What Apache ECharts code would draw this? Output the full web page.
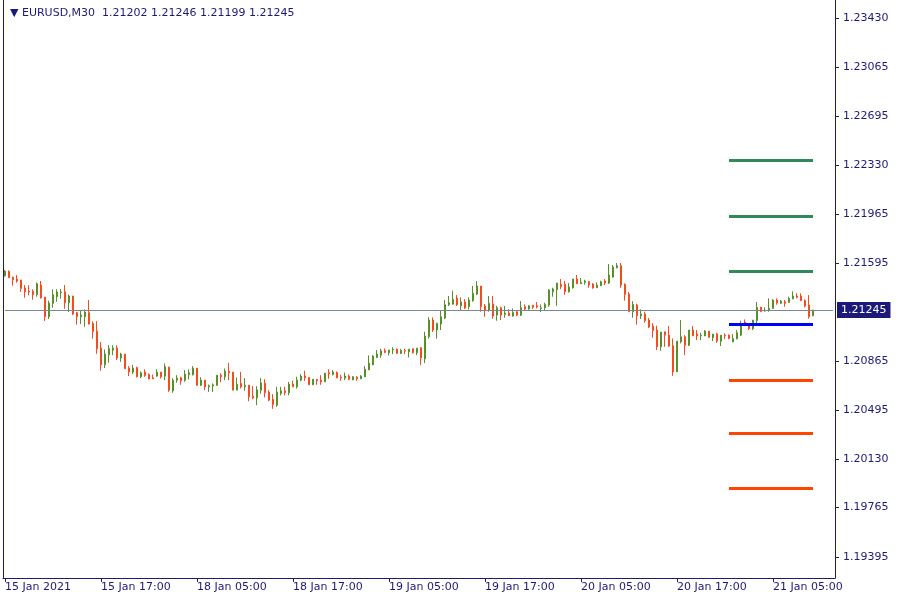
<!DOCTYPE html>
<html><head><meta charset="utf-8">
<script src="https://cdn.jsdelivr.net/npm/echarts@6/dist/echarts.min.js"></script>
<style>html,body{margin:0;padding:0;background:#fff}#c{width:900px;height:600px}</style>
</head><body><div id="c"></div>
<script>
const symbolName = 'EURUSD,M30';
const open = [1.21502,1.21535,1.21490,1.21477,1.21470,1.21410,1.21385,1.21385,1.21360,1.21432,
1.21342,1.21195,1.21295,1.21345,1.21375,1.21382,1.21300,1.21350,1.21225,1.21195,
1.21195,1.21225,1.21145,1.21087,1.20960,1.20835,1.20910,1.20945,1.20960,1.20887,
1.20915,1.20810,1.20780,1.20815,1.20745,1.20780,1.20762,1.20737,1.20750,1.20780,
1.20750,1.20817,1.20640,1.20720,1.20737,1.20720,1.20760,1.20760,1.20810,1.20682,
1.20720,1.20670,1.20677,1.20682,1.20757,1.20745,1.20787,1.20780,1.20645,1.20695,
1.20670,1.20682,1.20600,1.20587,1.20645,1.20697,1.20630,1.20577,1.20532,1.20620,
1.20640,1.20625,1.20690,1.20670,1.20720,1.20750,1.20740,1.20685,1.20725,1.20720,
1.20707,1.20775,1.20762,1.20777,1.20742,1.20735,1.20750,1.20722,1.20742,1.20730,
1.20745,1.20797,1.20835,1.20890,1.20907,1.20940,1.20925,1.20945,1.20952,1.20920,
1.20942,1.20932,1.20955,1.20925,1.20962,1.20880,1.21045,1.21170,1.21095,1.21140,
1.21185,1.21285,1.21290,1.21335,1.21275,1.21305,1.21270,1.21315,1.21365,1.21425,
1.21275,1.21245,1.21290,1.21207,1.21262,1.21212,1.21222,1.21200,1.21232,1.21207,
1.21270,1.21252,1.21280,1.21277,1.21257,1.21262,1.21282,1.21382,1.21397,1.21437,
1.21437,1.21382,1.21412,1.21477,1.21442,1.21452,1.21457,1.21440,1.21412,1.21427,
1.21462,1.21447,1.21492,1.21562,1.21577,1.21437,1.21365,1.21232,1.21282,1.21202,
1.21215,1.21170,1.21125,1.21095,1.20970,1.21082,1.21057,1.20977,1.20782,1.21007,
1.21045,1.20982,1.21095,1.21065,1.21052,1.21052,1.21087,1.21037,1.21065,1.21012,
1.21057,1.21057,1.21007,1.21030,1.21057,1.21155,1.21140,1.21105,1.21165,1.21265,
1.21237,1.21245,1.21257,1.21320,1.21295,1.21307,1.21302,1.21330,1.21350,1.21350,
1.21315,1.21282,1.21202];
const high = [1.21545,1.21542,1.21495,1.21507,1.21470,1.21432,1.21430,1.21400,1.21452,1.21462,
1.21342,1.21315,1.21400,1.21400,1.21402,1.21432,1.21362,1.21350,1.21232,1.21240,
1.21250,1.21320,1.21160,1.21162,1.21005,1.20950,1.20982,1.20982,1.20980,1.20925,
1.20915,1.20825,1.20835,1.20820,1.20785,1.20800,1.20770,1.20762,1.20802,1.20780,
1.20845,1.20820,1.20735,1.20757,1.20745,1.20795,1.20800,1.20825,1.20810,1.20742,
1.20720,1.20687,1.20695,1.20757,1.20770,1.20807,1.20850,1.20780,1.20740,1.20782,
1.20735,1.20682,1.20675,1.20675,1.20735,1.20727,1.20645,1.20615,1.20670,1.20670,
1.20670,1.20707,1.20717,1.20745,1.20765,1.20790,1.20740,1.20727,1.20725,1.20757,
1.20772,1.20802,1.20795,1.20785,1.20760,1.20777,1.20762,1.20750,1.20750,1.20757,
1.20825,1.20905,1.20907,1.20945,1.20955,1.20957,1.20945,1.20967,1.20957,1.20955,
1.20955,1.20952,1.20957,1.20960,1.20967,1.21082,1.21192,1.21190,1.21150,1.21240,
1.21320,1.21350,1.21390,1.21357,1.21340,1.21327,1.21340,1.21425,1.21462,1.21425,
1.21290,1.21350,1.21350,1.21277,1.21270,1.21275,1.21252,1.21257,1.21237,1.21312,
1.21287,1.21282,1.21280,1.21305,1.21287,1.21300,1.21402,1.21412,1.21447,1.21477,
1.21462,1.21447,1.21477,1.21507,1.21485,1.21472,1.21462,1.21447,1.21452,1.21465,
1.21477,1.21590,1.21582,1.21597,1.21597,1.21445,1.21380,1.21312,1.21292,1.21250,
1.21232,1.21185,1.21147,1.21127,1.21080,1.21082,1.21125,1.21032,1.21012,1.21170,
1.21057,1.21095,1.21125,1.21095,1.21075,1.21095,1.21087,1.21065,1.21075,1.21057,
1.21070,1.21062,1.21065,1.21095,1.21165,1.21175,1.21145,1.21170,1.21305,1.21270,
1.21265,1.21332,1.21325,1.21332,1.21320,1.21320,1.21345,1.21385,1.21370,1.21370,
1.21325,1.21357,1.21246];
const low = [1.21495,1.21487,1.21427,1.21450,1.21382,1.21337,1.21355,1.21322,1.21345,1.21330,
1.21162,1.21177,1.21262,1.21307,1.21330,1.21255,1.21230,1.21207,1.21135,1.21140,
1.21120,1.21137,1.21030,1.20917,1.20790,1.20810,1.20850,1.20907,1.20870,1.20857,
1.20805,1.20750,1.20765,1.20740,1.20735,1.20745,1.20727,1.20730,1.20745,1.20732,
1.20720,1.20632,1.20625,1.20700,1.20685,1.20707,1.20725,1.20755,1.20677,1.20675,
1.20645,1.20632,1.20632,1.20677,1.20705,1.20720,1.20720,1.20645,1.20645,1.20657,
1.20640,1.20562,1.20577,1.20532,1.20620,1.20590,1.20562,1.20505,1.20520,1.20605,
1.20607,1.20607,1.20670,1.20657,1.20712,1.20715,1.20685,1.20685,1.20685,1.20685,
1.20707,1.20730,1.20755,1.20735,1.20715,1.20720,1.20720,1.20720,1.20715,1.20727,
1.20742,1.20795,1.20832,1.20885,1.20887,1.20922,1.20905,1.20915,1.20917,1.20915,
1.20915,1.20890,1.20920,1.20907,1.20832,1.20847,1.21032,1.21080,1.21030,1.21095,
1.21177,1.21275,1.21285,1.21275,1.21245,1.21252,1.21250,1.21307,1.21357,1.21232,
1.21195,1.21232,1.21180,1.21165,1.21170,1.21187,1.21200,1.21195,1.21200,1.21200,
1.21245,1.21247,1.21252,1.21257,1.21230,1.21245,1.21270,1.21345,1.21277,1.21402,
1.21360,1.21375,1.21405,1.21442,1.21440,1.21435,1.21412,1.21405,1.21412,1.21425,
1.21432,1.21440,1.21487,1.21557,1.21412,1.21315,1.21232,1.21187,1.21135,1.21177,
1.21150,1.21110,1.21037,1.20945,1.20940,1.20970,1.20970,1.20752,1.20782,1.20995,
1.20907,1.20975,1.21050,1.21020,1.21020,1.21050,1.21040,1.21012,1.21000,1.20975,
1.21027,1.21027,1.21005,1.21025,1.21050,1.21125,1.21095,1.21095,1.21140,1.21232,
1.21232,1.21232,1.21255,1.21285,1.21292,1.21270,1.21300,1.21325,1.21332,1.21312,
1.21265,1.21180,1.21199];
const close = [1.21537,1.21487,1.21472,1.21462,1.21407,1.21382,1.21380,1.21360,1.21442,1.21337,
1.21195,1.21297,1.21360,1.21380,1.21380,1.21300,1.21350,1.21215,1.21195,1.21207,
1.21230,1.21140,1.21085,1.20955,1.20835,1.20915,1.20955,1.20960,1.20885,1.20915,
1.20805,1.20782,1.20810,1.20747,1.20775,1.20755,1.20730,1.20730,1.20780,1.20745,
1.20820,1.20645,1.20720,1.20735,1.20715,1.20765,1.20775,1.20810,1.20682,1.20720,
1.20670,1.20677,1.20685,1.20757,1.20745,1.20787,1.20775,1.20645,1.20687,1.20670,
1.20682,1.20595,1.20587,1.20647,1.20700,1.20625,1.20570,1.20537,1.20630,1.20640,
1.20625,1.20690,1.20670,1.20720,1.20750,1.20737,1.20685,1.20727,1.20715,1.20707,
1.20772,1.20767,1.20780,1.20737,1.20737,1.20750,1.20727,1.20745,1.20730,1.20750,
1.20802,1.20847,1.20900,1.20915,1.20940,1.20927,1.20945,1.20950,1.20922,1.20942,
1.20937,1.20952,1.20925,1.20960,1.20887,1.21050,1.21170,1.21095,1.21145,1.21195,
1.21285,1.21300,1.21325,1.21285,1.21305,1.21260,1.21320,1.21370,1.21425,1.21270,
1.21245,1.21295,1.21200,1.21262,1.21207,1.21222,1.21202,1.21227,1.21207,1.21262,
1.21252,1.21277,1.21265,1.21267,1.21262,1.21287,1.21395,1.21402,1.21447,1.21422,
1.21382,1.21417,1.21477,1.21442,1.21452,1.21462,1.21432,1.21410,1.21432,1.21457,
1.21447,1.21507,1.21567,1.21577,1.21432,1.21362,1.21232,1.21287,1.21202,1.21215,
1.21165,1.21117,1.21092,1.20970,1.21080,1.21057,1.20975,1.20782,1.21012,1.21045,
1.20982,1.21095,1.21052,1.21050,1.21057,1.21087,1.21040,1.21065,1.21012,1.21057,
1.21052,1.21032,1.21032,1.21075,1.21145,1.21130,1.21105,1.21170,1.21265,1.21232,
1.21242,1.21257,1.21320,1.21300,1.21312,1.21295,1.21332,1.21350,1.21340,1.21315,
1.21275,1.21195,1.21245];
const timeLabels = ['15 Jan 2021','15 Jan 17:00','18 Jan 05:00','18 Jan 17:00','19 Jan 05:00','19 Jan 17:00','20 Jan 05:00','20 Jan 17:00','21 Jan 05:00'];
const priceTicks = [1.19395,1.19765,1.20130,1.20495,1.20865,1.21595,1.21965,1.22330,1.22695,1.23065,1.23430];
const pivotLevels = [1.22369,1.21949,1.21537,1.21140,1.20721,1.20324,1.19912];
const pivotKinds = ['up','up','up','pivot','down','down','down'];
const pivotFrom = 181, pivotTo = 202;
const slotCount = 208, labelStep = 24;
const priceMin = 1.19238, priceMax = 1.23567;

const navy = '#1b1a78';
const bull = '#5a8e2b', bear = '#f44b1f';
const pivotColor = {up:'#2e8b57', pivot:'#0000ff', down:'#ff4500'};
const font = 'DejaVu Sans';

const categories = Array.from({length: slotCount}, (_, i) =>
  (i % labelStep === 0 && timeLabels[i / labelStep]) ? timeLabels[i / labelStep] : 'bar' + i);
const candles = open.map((o, i) => [o, close[i], low[i], high[i]]);
const last = candles.length - 1;
const lastClose = close[last];

const markData = [[
  {coord: [0, lastClose], lineStyle: {color: '#778899', width: 1, type: 'solid'},
   label: {show: true, position: 'end', distance: 4, formatter: lastClose.toFixed(5),
     color: '#fff', backgroundColor: navy, padding: [3, 4, 2, 4], fontSize: 11, fontFamily: font}},
  {coord: [slotCount - 1, lastClose]}
]];
pivotLevels.forEach((lv, k) => {
  markData.push([
    {coord: [pivotFrom, lv], lineStyle: {color: pivotColor[pivotKinds[k]], width: 3, type: 'solid'}, label: {show: false}},
    {coord: [pivotTo, lv]}
  ]);
});

const chart = echarts.init(document.getElementById('c'), null, {renderer: 'canvas'});
chart.setOption({
  animation: false,
  backgroundColor: '#fff',
  title: {
    text: '\u25BC ' + symbolName + '  ' + [open[last], high[last], low[last], close[last]].map(v => v.toFixed(5)).join(' '),
    left: 5, top: 3,
    textStyle: {fontSize: 11, fontWeight: 'normal', color: navy, fontFamily: font}
  },
  grid: {left: 3, right: 65, top: 0, bottom: 22},
  xAxis: {
    type: 'category', data: categories, boundaryGap: true,
    axisLine: {show: true, lineStyle: {color: navy, width: 1}},
    axisTick: {show: true, alignWithLabel: true, interval: labelStep - 1, length: 4, lineStyle: {color: navy}},
    axisLabel: {interval: labelStep - 1, align: 'left', margin: 4, color: navy, fontSize: 11, fontFamily: font},
    splitLine: {show: false}
  },
  yAxis: [{
    type: 'value', position: 'right', min: priceMin, max: priceMax,
    axisLine: {show: true, lineStyle: {color: navy, width: 1}},
    axisTick: {show: true, length: 4, customValues: priceTicks, lineStyle: {color: navy}},
    axisLabel: {customValues: priceTicks, formatter: v => v.toFixed(5), margin: 8, color: navy, fontSize: 11, fontFamily: font},
    splitLine: {show: false}
  }, {
    type: 'value', position: 'left', min: priceMin, max: priceMax,
    axisLine: {show: true, lineStyle: {color: navy, width: 1}},
    axisTick: {show: false}, axisLabel: {show: false}, splitLine: {show: false}
  }],
  series: [{
    type: 'candlestick', yAxisIndex: 0, data: candles, barWidth: 2,
    itemStyle: {color: bull, color0: bear, borderColor: bull, borderColor0: bear, borderWidth: 1},
    markLine: {symbol: ['none', 'none'], silent: true, animation: false, data: markData}
  }]
});
</script></body></html>
